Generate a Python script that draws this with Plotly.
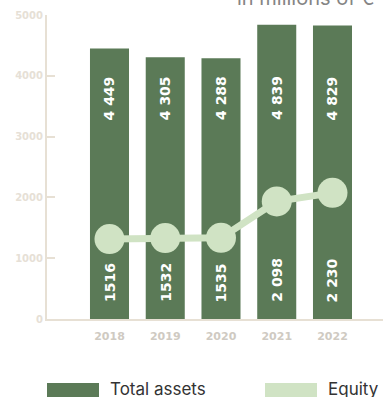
import plotly.graph_objects as go

# Balance sheet figures, in millions of euros
years = ["2018", "2019", "2020", "2021", "2022"]
total_assets = [4449, 4305, 4288, 4839, 4829]
equity = [1516, 1532, 1535, 2098, 2230]
total_assets_labels = ["4 449", "4 305", "4 288", "4 839", "4 829"]
equity_labels = ["1516", "1532", "1535", "2 098", "2 230"]
y_ticks = [0, 1000, 2000, 3000, 4000, 5000]

DARK = "#5b7a57"
LIGHT = "#d0e3c4"
AXIS = "#e7e0d4"

W, H = 383, 397
ML, MR, MT, MB = 47, 0, 15, 78
PW, PH = W - ML - MR, H - MT - MB


def px_x(px):
    return (px - ML) / PW


def px_y(py):
    return (H - MB - py) / PH


fig = go.Figure()

fig.add_trace(go.Bar(
    x=years, y=total_assets, name="Total assets",
    marker=dict(color=DARK, line=dict(width=0)), width=0.7,
    hoverinfo="skip", showlegend=False,
))

fig.add_trace(go.Scatter(
    x=years, y=equity, name="Equity", yaxis="y2",
    mode="lines+markers",
    line=dict(color=LIGHT, width=7),
    marker=dict(color=LIGHT, size=30),
    hoverinfo="skip", showlegend=False,
))

label_font = dict(family="DejaVu Sans", size=14, color="white", weight="bold")
annotations = []
for i, (ta, eq) in enumerate(zip(total_assets_labels, equity_labels)):
    # category index is used as x so numeric-looking year names stay categorical
    annotations.append(dict(
        x=i, xref="x", y=px_y(122), yref="paper",
        text=ta, textangle=-90, showarrow=False,
        xanchor="center", yanchor="bottom", font=label_font,
    ))
    annotations.append(dict(
        x=i, xref="x", y=px_y(304), yref="paper",
        text=eq, textangle=-90, showarrow=False,
        xanchor="center", yanchor="bottom", font=label_font,
    ))

# unit caption
annotations.append(dict(
    x=px_x(377), xref="paper", y=1, yref="paper", yshift=3,
    text="in millions of €", showarrow=False,
    xanchor="right", yanchor="bottom",
    font=dict(family="Inter", size=20, color="#858585"),
))

# legend
legend_font = dict(family="Inter", size=17, color="#333333")
annotations.append(dict(
    x=px_x(108), xref="paper", y=px_y(389), yref="paper",
    text="Total assets", showarrow=False, xanchor="left", yanchor="middle",
    font=legend_font,
))
annotations.append(dict(
    x=px_x(326), xref="paper", y=px_y(389), yref="paper",
    text="Equity", showarrow=False, xanchor="left", yanchor="middle",
    font=legend_font,
))
shapes = [
    dict(type="rect", xref="paper", yref="paper",
         x0=px_x(47), x1=px_x(99), y0=px_y(383), y1=px_y(400),
         fillcolor=DARK, line=dict(width=0)),
    dict(type="rect", xref="paper", yref="paper",
         x0=px_x(265), x1=px_x(317), y0=px_y(383), y1=px_y(400),
         fillcolor=LIGHT, line=dict(width=0)),
]

fig.update_layout(
    width=W, height=H,
    margin=dict(l=ML, r=MR, t=MT, b=MB, pad=0),
    paper_bgcolor="white", plot_bgcolor="white",
    showlegend=False,
    xaxis=dict(
        type="category", range=[-1.121, 4.906],
        showgrid=False, zeroline=False,
        showline=True, linecolor=AXIS, linewidth=2,
        ticks="", tickfont=dict(family="DejaVu Sans", size=11, color="#cfcac2", weight="bold"),
        ticklabelstandoff=6,
    ),
    yaxis=dict(
        range=[0, 5000], tickvals=y_ticks, ticktext=[str(v) for v in y_ticks],
        showgrid=False, zeroline=False,
        showline=True, linecolor=AXIS, linewidth=2,
        ticks="inside", ticklen=8, tickwidth=2, tickcolor=AXIS,
        tickfont=dict(family="DejaVu Sans", size=10, color="#e6e0d6", weight="bold"),
    ),
    yaxis2=dict(range=[280, 4980], overlaying="y", visible=False),
    annotations=annotations,
    shapes=shapes,
)

fig.write_html("out.html")
